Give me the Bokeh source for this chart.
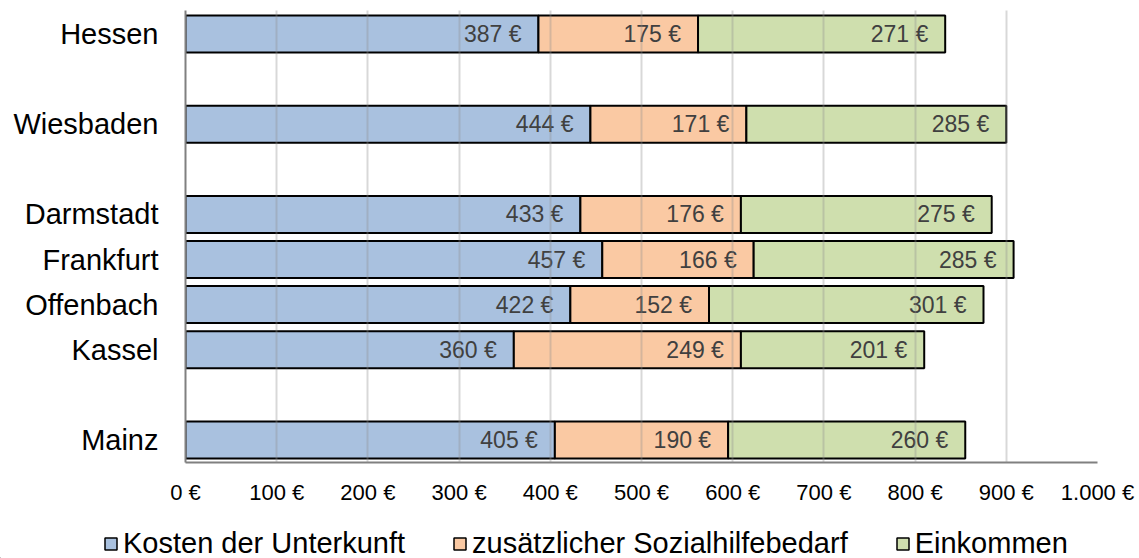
from bokeh.plotting import figure
from bokeh.models import ColumnDataSource, Range1d, FixedTicker, Legend, LegendItem
from bokeh.embed import file_html
from bokeh.resources import INLINE
from bokeh.core.properties import value

# ---- data ----
regions = ["Hessen", "Wiesbaden", "Darmstadt", "Frankfurt", "Offenbach", "Kassel", "Mainz"]
slots = [0, 2, 4, 5, 6, 7, 9]  # row positions (gaps between groups)
kosten = [387, 444, 433, 457, 422, 360, 405]
zusatz = [175, 171, 176, 166, 152, 249, 190]
einkommen = [271, 285, 275, 285, 301, 201, 260]
series_names = ["Kosten der Unterkunft", "zusätzlicher Sozialhilfebedarf", "Einkommen"]
colors = ["#A9C1DF", "#FAC9A3", "#CFDFAE"]
x_ticks = [0, 100, 200, 300, 400, 500, 600, 700, 800, 900, 1000]
x_tick_labels = ["0 €", "100 €", "200 €", "300 €", "400 €", "500 €", "600 €",
                 "700 €", "800 €", "900 €", "1.000 €"]

FONT = "Liberation Sans"
W = 1139

src = ColumnDataSource(dict(y=slots, k=kosten, z=zusatz, e=einkommen))

p = figure(width=W, height=520, output_backend="svg", toolbar_location=None,
           x_range=Range1d(0, 1000), y_range=Range1d(9.5, -0.52),
           min_border_left=185, min_border_right=42, min_border_top=10, min_border_bottom=58)
p.outline_line_color = None

p.hbar_stack(["k", "z", "e"], y="y", height=0.82, color=colors,
             line_color="black", line_width=2, source=src)

# data labels (inside end of each segment)
cum = [0] * len(slots)
for vals in (kosten, zusatz, einkommen):
    ends = [c + v for c, v in zip(cum, vals)]
    lsrc = ColumnDataSource(dict(x=ends, y=slots, t=[f"{v} €" for v in vals]))
    p.text(x="x", y="y", text="t", source=lsrc, text_align="right", text_baseline="middle",
           x_offset=-17, text_font=value(FONT), text_font_size="23px", text_color="#404040")
    cum = ends

# grid
p.ygrid.visible = False
p.xgrid.ticker = FixedTicker(ticks=x_ticks)
p.xgrid.grid_line_color = "#909090"
p.xgrid.grid_line_alpha = 0.35
p.xgrid.grid_line_width = 2
p.xgrid.level = "overlay"

# axes
p.xaxis.ticker = FixedTicker(ticks=x_ticks)
p.xaxis.major_label_overrides = {t: l for t, l in zip(x_ticks, x_tick_labels)}
p.yaxis.ticker = FixedTicker(ticks=slots)
p.yaxis.major_label_overrides = {s: r for s, r in zip(slots, regions)}
for ax in (p.xaxis[0], p.yaxis[0]):
    ax.axis_line_color = "#808080"
    ax.axis_line_width = 2
    ax.major_tick_in = 0
    ax.major_tick_out = 0
    ax.minor_tick_in = 0
    ax.minor_tick_out = 0
    ax.major_label_text_font = FONT
    ax.major_label_text_color = "black"
p.xaxis.major_label_text_font_size = "22px"
p.xaxis.major_label_standoff = 17
p.yaxis.major_label_text_font_size = "29px"
p.yaxis.major_label_standoff = 27

# legend in its own strip below the chart (separate root, so frames are not aligned)
pl = figure(width=W, height=38, output_backend="svg", toolbar_location=None,
            x_range=Range1d(0, 1), y_range=Range1d(0, 1), min_border=0)
pl.outline_line_color = None
pl.axis.visible = False
pl.grid.visible = False
dummies = [pl.hbar(y=[-5], right=[-5], left=[-6], height=0.1, fill_color=c,
                   line_color="black", line_width=1.5) for c in colors]
legend = Legend(items=[LegendItem(label=n, renderers=[r]) for n, r in zip(series_names, dummies)],
                orientation="horizontal", location=(103, -2),
                border_line_color=None, background_fill_alpha=0, padding=0, margin=0,
                spacing=47, glyph_width=15, glyph_height=15, label_standoff=5,
                label_text_font=FONT, label_text_font_size="29px", label_text_color="black",
                label_height=30)
pl.add_layout(legend)

open("out.html", "w").write(file_html([p, pl], INLINE))
